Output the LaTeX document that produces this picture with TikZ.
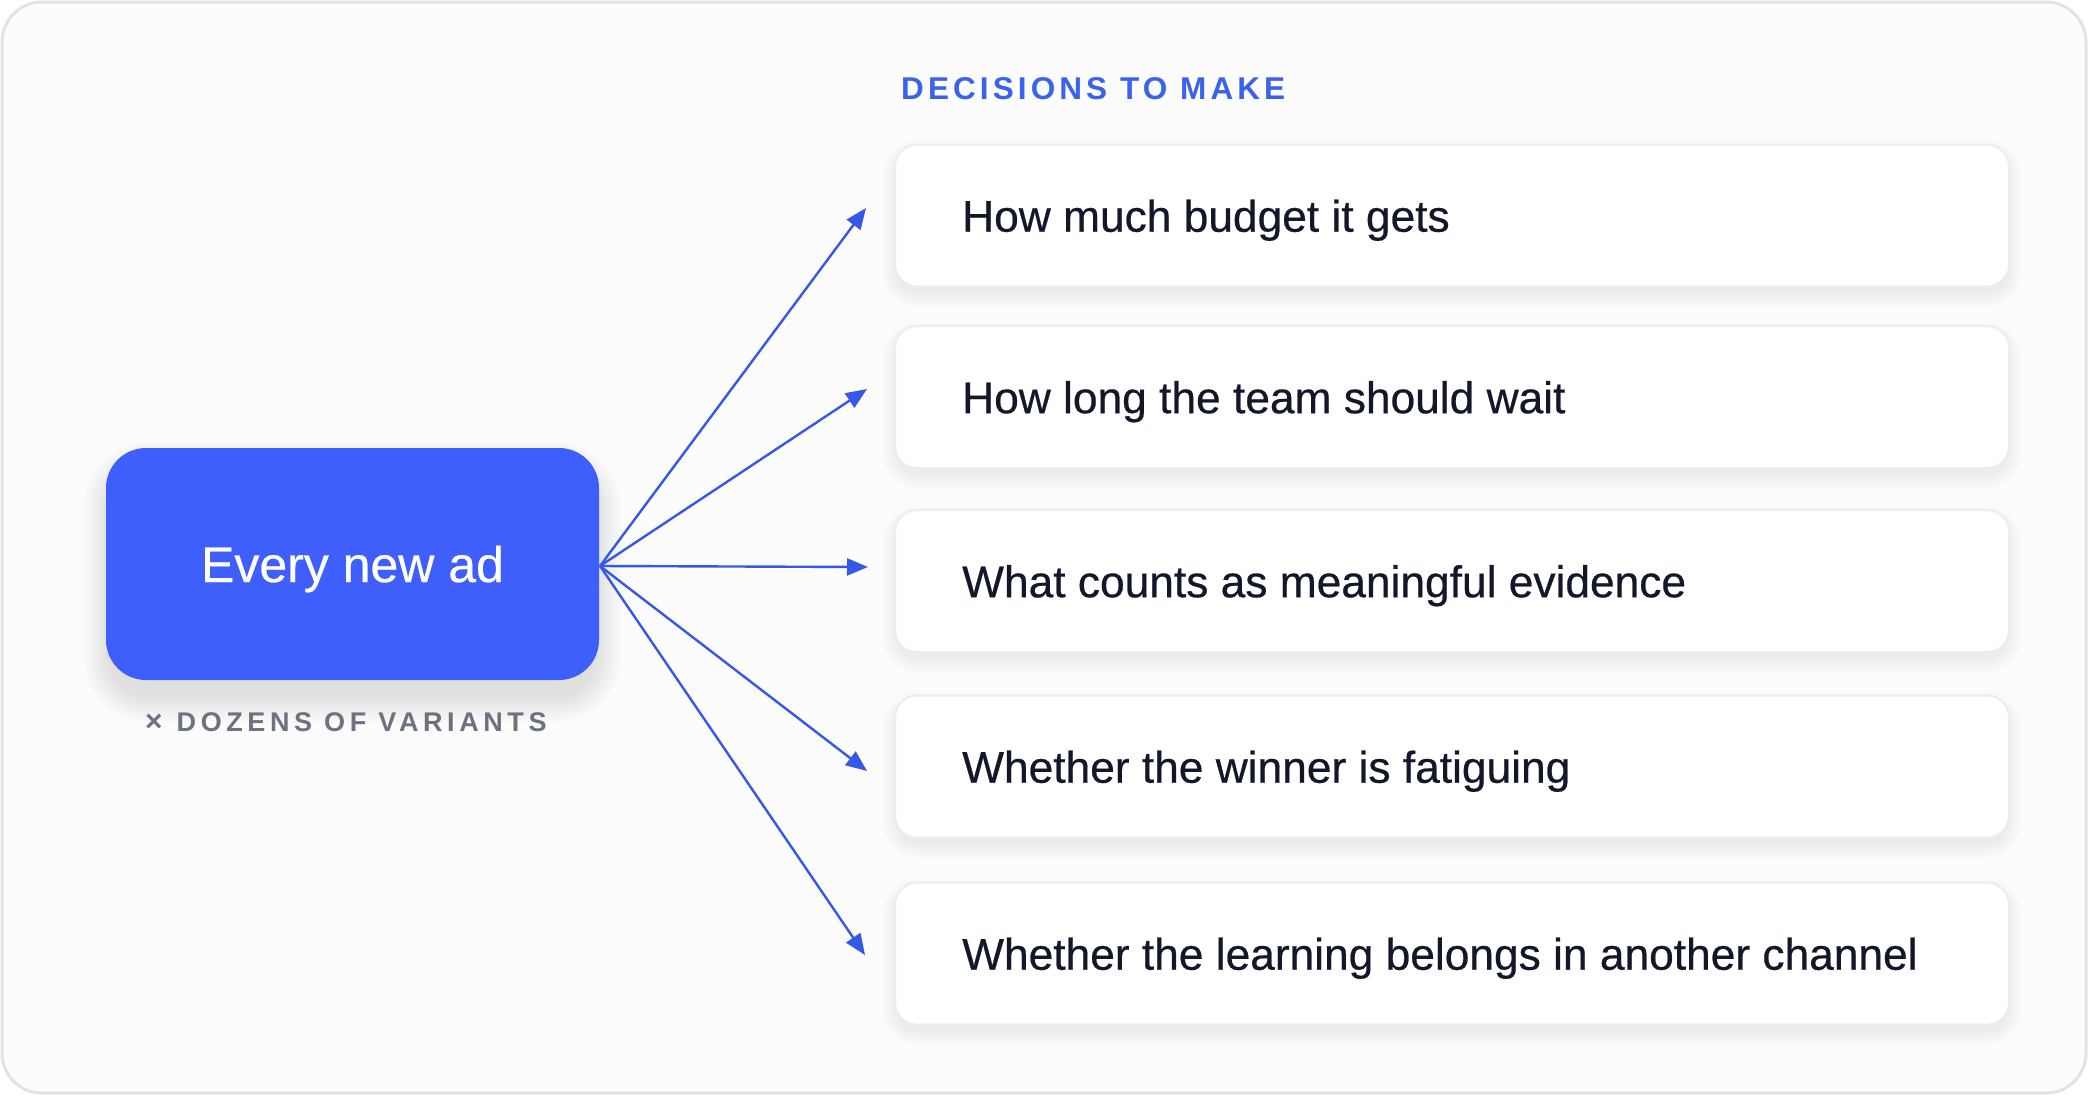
\documentclass[tikz,border=0pt]{standalone}
\usepackage{fontspec}
\setmainfont{Liberation Sans}[FakeBold=0.5]
\newfontfamily\titlefont[LetterSpace=13]{Liberation Sans}
\newfontfamily\subfont[LetterSpace=17]{Liberation Sans}
\usetikzlibrary{arrows.meta}
\definecolor{framefill}{HTML}{FCFCFC}
\definecolor{frameline}{HTML}{E3E3E3}
\definecolor{cardline}{HTML}{EDEDED}
\definecolor{adblue}{HTML}{3E5FFC}
\definecolor{arrowblue}{HTML}{3558E8}
\definecolor{titleblue}{HTML}{3A62EC}
\definecolor{subgray}{HTML}{6B7280}
\definecolor{ink}{HTML}{12172A}
\newcommand{\softshade}[8]{% x1 y1 x2 y2 radius dy layers opacity
  \foreach \i in {1,...,#7}{%
    \pgfmathsetmacro\rr{#5+\i}%
    \fill[black,opacity=#8,rounded corners=\rr pt] (#1-\i,#2-\i+#6) rectangle (#3+\i,#4+\i+#6);}%
}
\tikzset{
  framebox/.style={draw=frameline,line width=3pt,fill=framefill,rounded corners=40pt},
  adbox/.style={rectangle,fill=adblue,rounded corners=40pt,minimum width=493pt,minimum height=232pt,
    inner sep=0pt,text=white,font=\fontsize{50}{60}\selectfont,text height=36pt,text depth=0pt},
  card/.style={rectangle,fill=white,draw=cardline,line width=2pt,rounded corners=22pt,
    minimum width=1114pt,minimum height=142pt,inner sep=0pt},
  lbl/.style={anchor=base west,inner sep=0pt,text=ink,font=\fontsize{44.3}{53}\selectfont},
  heading/.style={anchor=base west,inner sep=0pt,text=titleblue,font=\titlefont\bfseries\fontsize{31.5}{38}\selectfont},
  subhead/.style={anchor=base west,inner sep=0pt,text=subgray,font=\subfont\bfseries\fontsize{27}{32}\selectfont},
  arr/.style={draw=arrowblue,line width=2.4pt,-{Triangle[length=21pt,width=17pt]}}
}
\begin{document}
\begin{tikzpicture}[x=1pt,y=-1pt]
\useasboundingbox (0,0) rectangle (2088,1095);
\fill[white] (0,0) rectangle (2088,1095);
\draw[framebox] (2,2) rectangle (2086,1093);

% shadows
\softshade{110}{452}{595}{680}{40}{16}{28}{0.005}
\softshade{897}{146.5}{2007}{284.5}{22}{8}{16}{0.0035}
\softshade{897}{328}{2007}{466}{22}{8}{16}{0.0035}
\softshade{897}{512}{2007}{650}{22}{8}{16}{0.0035}
\softshade{897}{697.5}{2007}{835.5}{22}{8}{16}{0.0035}
\softshade{897}{884.5}{2007}{1022.5}{22}{8}{16}{0.0035}

% main box
\node[adbox] (ad) at (352.5,564) {Every new ad};
\node[subhead] (sub) at (145,731) {{\fontsize{30}{32}\selectfont ×}\hspace{14pt}DOZENS OF VARIANTS};

% heading
\node[heading] (title) at (901,99.3) {DECISIONS TO MAKE};

% cards
\node[card] (c1) at (1452,215.5) {};
\node[card] (c2) at (1452,397) {};
\node[card] (c3) at (1452,581) {};
\node[card] (c4) at (1452,766.5) {};
\node[card] (c5) at (1452,953.5) {};

\node[lbl] (l1) at (962,231.7) {How much budget it gets};
\node[lbl] (l2) at (962,413.2) {How long the team should wait};
\node[lbl] (l3) at (962,597.2) {What counts as meaningful evidence};
\node[lbl] (l4) at (962,782.7) {Whether the winner is fatiguing};
\node[lbl] (l5) at (962,969.7) {Whether the learning belongs in another channel};

% arrow ends
\coordinate (src) at (600,566);
\coordinate (t1) at (866,208);
\coordinate (t2) at (867,389);
\coordinate (t3) at (868,567);
\coordinate (t4) at (867,771);
\coordinate (t5) at (865,955);

\draw[arr] (src) -- (t1);
\draw[arr] (src) -- (t2);
\draw[arr] (src) -- (t3);
\draw[arr] (src) -- (t4);
\draw[arr] (src) -- (t5);
\end{tikzpicture}
\end{document}
